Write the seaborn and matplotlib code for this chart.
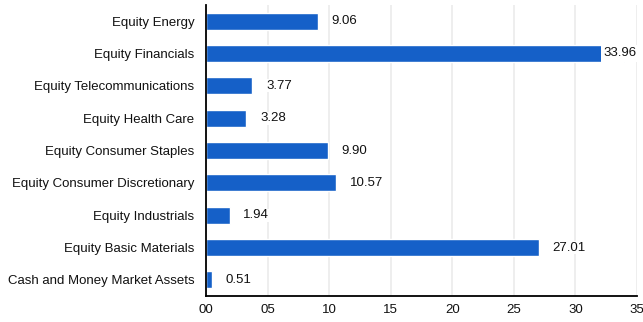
import matplotlib
matplotlib.use("Agg")
import matplotlib.pyplot as plt
import seaborn as sns
import pandas as pd

categories = ["Equity Energy", "Equity Financials", "Equity Telecommunications",
              "Equity Health Care", "Equity Consumer Staples",
              "Equity Consumer Discretionary", "Equity Industrials",
              "Equity Basic Materials", "Cash and Money Market Assets"]
values = [9.06, 33.96, 3.77, 3.28, 9.90, 10.57, 1.94, 27.01, 0.51]
xticks = [0, 5, 10, 15, 20, 25, 30, 35]
xtick_labels = ["00", "05", "10", "15", "20", "25", "30", "35"]

sns.set_style("white")
plt.rcParams["font.family"] = ["Liberation Sans", "DejaVu Sans"]

df = pd.DataFrame({"category": categories, "value": values})

fig = plt.figure(figsize=(6.43, 3.22), dpi=100)
ax = fig.add_axes([0.3204, 0.0807, 0.6703, 0.9038])
sns.barplot(data=df, y="category", x="value", orient="h", color="#1560c8",
            saturation=1, width=0.53, ax=ax, zorder=2)

xmax = 35
ax.set_xlim(0, xmax)
ax.set_xticks(xticks)
ax.set_xticklabels(xtick_labels)
ax.set_xlabel("")
ax.set_ylabel("")
ax.grid(axis="x", color="#ebebeb", linewidth=1.2, zorder=0)
ax.set_axisbelow(True)
for s in ["top", "right"]:
    ax.spines[s].set_visible(False)
for s in ["left", "bottom"]:
    ax.spines[s].set_color("black")
    ax.spines[s].set_linewidth(1.3)
ax.tick_params(axis="both", length=0, labelsize=9.5, colors="#111111")
ax.tick_params(axis="y", pad=8.5)
ax.tick_params(axis="x", pad=6)

for i, v in enumerate(values):
    label = f"{v:.2f}"
    if v + 1.1 + 3.0 > xmax:
        ax.text(xmax, i, label, va="center", ha="right", fontsize=9.5,
                color="#111111", zorder=3, clip_on=False,
                bbox=dict(facecolor="white", edgecolor="none", pad=2))
    else:
        ax.text(v + 1.1, i, label, va="center", ha="left", fontsize=9.5,
                color="#111111", zorder=3,
                bbox=dict(facecolor="white", edgecolor="none", pad=0.5))

fig.savefig("out.png", dpi=100)
